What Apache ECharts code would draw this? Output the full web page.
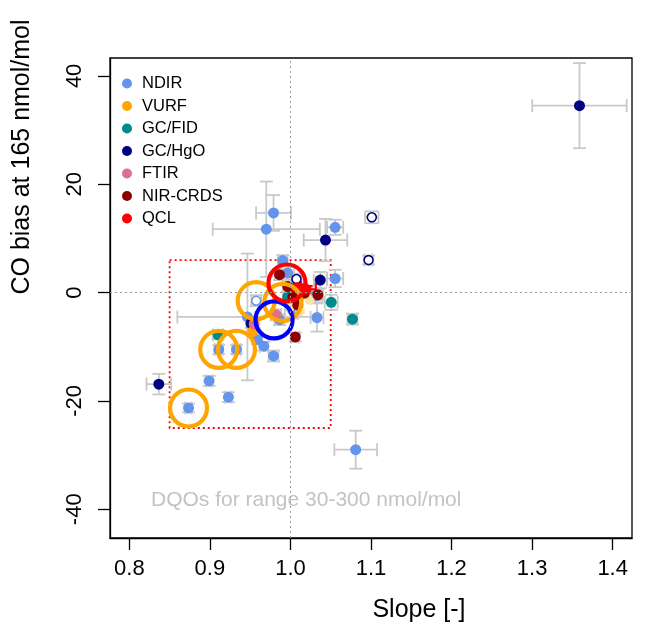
<!DOCTYPE html>
<html>
<head>
<meta charset="utf-8">
<script src="https://cdn.jsdelivr.net/npm/echarts@6/dist/echarts.min.js"></script>
<style>
  html, body { margin: 0; padding: 0; background: #fff; }
  #chart { width: 654px; height: 639px; }
</style>
</head>
<body>
<div id="chart"></div>
<script>
// CO intercomparison: slope vs. bias at 165 nmol/mol, per instrument technique.
// Each row: [slope, bias, slope uncertainty, bias uncertainty]
const ndir = [
  [0.8735, -21.3, 0.004, 0.8],
  [0.899, -16.3, 0.004, 0.9],
  [0.923, -19.3, 0.004, 0.9],
  [0.911, -10.5, 0.005, 0.8],
  [0.933, -10.5, 0.005, 0.8],
  [0.9466, -4.5, 0.087, 11.7],
  [0.959, -8.7, 0.005, 0.8],
  [0.967, -9.9, 0.005, 0.8],
  [0.979, -11.7, 0.006, 1.0],
  [1.081, -29.0, 0.0265, 3.5],
  [0.979, 14.7, 0.0217, 3.3],
  [0.970, 11.7, 0.0665, 8.8],
  [1.0555, 12.05, 0.01, 1.4],
  [1.0555, 2.6, 0.01, 1.6],
  [1.033, -4.6, 0.008, 2.6],
  [0.9905, 5.9, 0.006, 1.0],
  [0.9967, 3.6, 0.008, 1.2],
  [0.9864, -5.0, 0.006, 1.0],
  [1.003, -3.3, 0.01, 1.5]
];
const ndirOpen = [
  [0.9575, -1.5, 0.006, 1.0],
  [1.032, -0.6, 0.008, 1.2]
];
const vurf = [
  [0.953, -7.2, 0.005, 0.8]
];
// faint VURF results drawn in a pale tint
const vurfPale = [
  [1.0236, -1.35],
  [0.9995, -2.6],
  [1.012, -3.4]
];
const gcFid = [
  [1.077, -4.9, 0.006, 1.0],
  [1.0506, -1.8, 0.008, 1.4],
  [0.910, -7.8, 0.006, 0.8],
  [0.9967, -0.75, 0.006, 1.0]
];
const gcHgo = [
  [1.3588, 34.5, 0.0586, 7.85],
  [1.0435, 9.7, 0.027, 3.9],
  [1.037, 2.3, 0.008, 1.5],
  [0.8366, -16.9, 0.0153, 1.9],
  [0.951, -5.7, 0.005, 0.8]
];
const gcHgoOpen = [
  [1.101, 13.9, 0.0083, 1.1],
  [1.097, 6.0, 0.005, 0.8],
  [1.0075, 2.5, 0.006, 1.0]
];
const ftir = [
  [0.9823, -4.1, 0.006, 1.0],
  [0.955, -5.8, 0.005, 0.8]
];
const nirCrds = [
  [1.006, -8.2, 0.005, 0.8],
  [0.9864, 3.3, 0.006, 1.0],
  [0.9967, 1.1, 0.006, 1.0],
  [1.009, -2.3, 0.006, 1.0],
  [1.0174, -0.1, 0.006, 1.0],
  [1.034, -0.4, 0.006, 1.0],
  [1.003, -0.8, 0.006, 1.0]
];
const qcl = [
  [1.0195, 0.6, 0.012, 0.6],
  [1.009, 0.9, 0.004, 0.6]
];
// highlighted laboratories (big rings)
const ringOrange = [[0.8735, -21.3], [0.911, -10.5], [0.933, -10.5], [0.9575, -1.5], [0.9904, -1.8]];
const ringBlue = [[0.9796, -5.05]];
const ringRed = [[0.9957, 1.77]];
// data quality objective window: [slope min, slope max, bias min, bias max]
const dqoBox = [[0.85, 1.05, -25, 6]];
const xTicks = [0.8, 0.9, 1.0, 1.1, 1.2, 1.3, 1.4];
const yTicks = [-40, -20, 0, 20, 40];

const FONT = 'Liberation Sans, Arial, Helvetica, sans-serif';
const colors = {
  'NDIR': '#6495ED', 'VURF': '#FFA500', 'GC/FID': '#008B8B', 'GC/HgO': '#000080',
  'FTIR': '#DB7093', 'NIR-CRDS': '#8B0000', 'QCL': '#FF0000'
};

const greyPoints = [].concat(ndir, ndirOpen, vurf, gcFid, gcHgo, gcHgoOpen, ftir, nirCrds);

function errRenderer(color, width) {
  return function (params, api) {
    const x = api.value(0), y = api.value(1), ex = api.value(2), ey = api.value(3);
    const c = api.coord([x, y]);
    const l = api.coord([x - ex, y])[0], r = api.coord([x + ex, y])[0];
    const t = api.coord([x, y + ey])[1], b = api.coord([x, y - ey])[1];
    const cap = 6.5;
    const style = { stroke: color, lineWidth: width, fill: null };
    const seg = (x1, y1, x2, y2) => ({ type: 'line', shape: { x1, y1, x2, y2 }, style });
    return {
      type: 'group',
      children: [
        seg(l, c[1], r, c[1]),
        seg(c[0], t, c[0], b),
        seg(l, c[1] - cap, l, c[1] + cap),
        seg(r, c[1] - cap, r, c[1] + cap),
        seg(c[0] - cap, t, c[0] + cap, t),
        seg(c[0] - cap, b, c[0] + cap, b)
      ]
    };
  };
}

function pointSeries(name, filled, open) {
  const data = filled.map(p => [p[0], p[1]]);
  (open || []).forEach(p => data.push({
    value: [p[0], p[1]],
    symbolSize: 9,
    itemStyle: { color: '#ffffff', borderColor: colors[name], borderWidth: 1.6 }
  }));
  return {
    name, type: 'scatter', data, symbol: 'circle', symbolSize: 11,
    itemStyle: { color: colors[name], opacity: 1 },
    emphasis: { disabled: true }, animation: false
  };
}

function ringSeries(name, data, color) {
  return {
    name, type: 'scatter', data, symbol: 'circle', symbolSize: 37,
    itemStyle: { color: 'rgba(0,0,0,0)', borderColor: color, borderWidth: 4.2, opacity: 1 },
    emphasis: { disabled: true }, animation: false
  };
}

const chart = echarts.init(document.getElementById('chart'), null, { renderer: 'canvas' });
chart.setOption({
  animation: false,
  backgroundColor: '#ffffff',
  textStyle: { fontFamily: FONT },
  grid: { left: 110, top: 58, width: 522, height: 480, show: true, borderColor: '#000', borderWidth: 1.3, backgroundColor: 'transparent' },
  xAxis: {
    type: 'value', min: 0.776, max: 1.424,
    splitLine: { show: false },
    axisLine: { show: true, onZero: false, lineStyle: { color: '#000', width: 1.3 } },
    axisTick: { show: true, inside: false, length: 12, lineStyle: { color: '#000', width: 1.3 }, customValues: xTicks },
    axisLabel: { show: true, customValues: xTicks, margin: 20, fontSize: 22, color: '#000', fontFamily: FONT,
      formatter: v => v.toFixed(1) }
  },
  yAxis: {
    type: 'value', min: -45.3, max: 43.3,
    splitLine: { show: false },
    axisLine: { show: true, onZero: false, lineStyle: { color: '#000', width: 1.3 } },
    axisTick: { show: true, inside: false, length: 12, lineStyle: { color: '#000', width: 1.3 }, customValues: yTicks },
    axisLabel: { show: true, customValues: yTicks, rotate: 90, margin: 24, fontSize: 22, color: '#000', fontFamily: FONT,
      formatter: v => String(v) }
  },
  legend: {
    data: ['NDIR', 'VURF', 'GC/FID', 'GC/HgO', 'FTIR', 'NIR-CRDS', 'QCL'],
    orient: 'vertical', left: 117, top: 70, itemWidth: 20, itemHeight: 10, itemGap: 5.5,
    icon: 'circle', selectedMode: false,
    textStyle: { fontSize: 16.5, color: '#000', fontFamily: FONT, lineHeight: 16 }
  },
  graphic: [
    { type: 'text', left: 151, top: 490, silent: true,
      style: { text: 'DQOs for range 30-300 nmol/mol', fontSize: 21, fill: '#c3c3c3', fontFamily: FONT } },
    { type: 'text', x: 419, y: 610, silent: true,
      style: { text: 'Slope [-]', fontSize: 25, fill: '#000', fontFamily: FONT, align: 'center', verticalAlign: 'middle' } },
    { type: 'text', x: 22, y: 157, rotation: Math.PI / 2, silent: true,
      style: { text: 'CO bias at 165 nmol/mol', fontSize: 25, fill: '#000', fontFamily: FONT, align: 'center', verticalAlign: 'middle' } }
  ],
  series: [
    {
      name: 'ref', type: 'line', data: [], silent: true,
      markLine: {
        silent: true, symbol: 'none', animation: false,
        label: { show: false },
        lineStyle: { color: '#9a9a9a', type: [2, 3], width: 1 },
        data: [{ xAxis: 1.0 }, { yAxis: 0 }]
      }
    },
    {
      name: 'dqo', type: 'custom', data: dqoBox, silent: true,
      encode: { x: [0, 1], y: [2, 3] },
      renderItem: (params, api) => {
        const p0 = api.coord([api.value(0), api.value(3)]);
        const p1 = api.coord([api.value(1), api.value(2)]);
        return { type: 'rect', shape: { x: p0[0], y: p0[1], width: p1[0] - p0[0], height: p1[1] - p0[1] },
          style: { fill: null, stroke: '#ff0000', lineWidth: 1.8, lineDash: [2, 3] } };
      }
    },
    {
      name: 'err', type: 'custom', data: greyPoints, silent: true,
      encode: { x: 0, y: 1 },
      renderItem: errRenderer('#c9c9c9', 1.8)
    },
    pointSeries('NDIR', ndir, ndirOpen),
    {
      name: 'vurfPale', type: 'scatter', data: vurfPale, symbol: 'circle', symbolSize: 10,
      itemStyle: { color: '#FFE3A3', opacity: 1 }, emphasis: { disabled: true }
    },
    pointSeries('GC/FID', gcFid),
    pointSeries('GC/HgO', gcHgo, gcHgoOpen),
    pointSeries('VURF', vurf),
    pointSeries('FTIR', ftir),
    pointSeries('NIR-CRDS', nirCrds),
    {
      name: 'qclErr', type: 'custom', data: qcl, silent: true,
      encode: { x: 0, y: 1 },
      renderItem: errRenderer('#FF0000', 2.2)
    },
    pointSeries('QCL', qcl),
    ringSeries('ringOrange', ringOrange, '#FFA500'),
    ringSeries('ringBlue', ringBlue, '#0000FF'),
    ringSeries('ringRed', ringRed, '#FF0000')
  ]
});
</script>
</body>
</html>
